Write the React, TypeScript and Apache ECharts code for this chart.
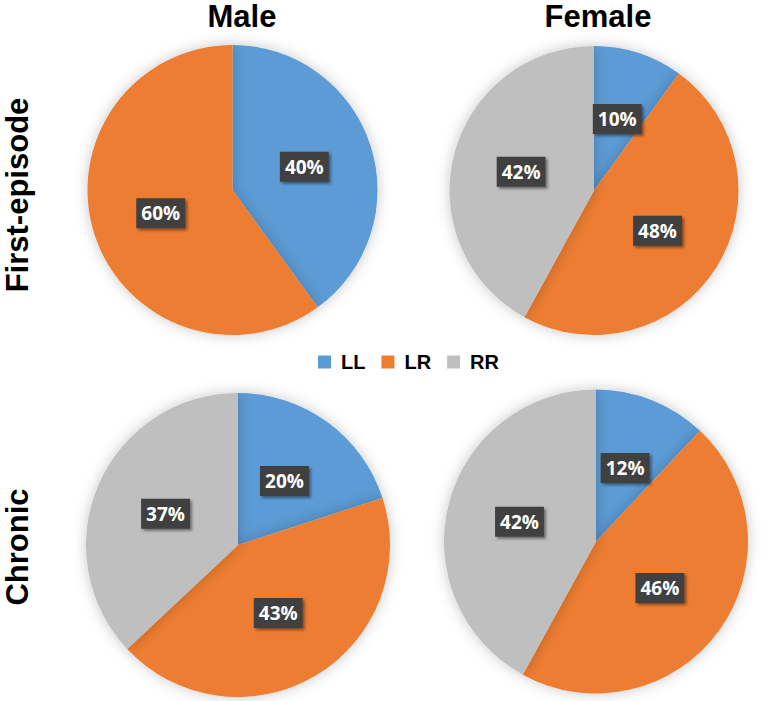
import React, { useEffect, useRef } from "react";
import * as echarts from "echarts";

const categories = ["LL", "LR", "RR"];
const colors = ["#5B9BD5", "#ED7D31", "#BFBFBF"];
const maleFirstEpisode = [40, 60];
const femaleFirstEpisode = [10, 48, 42];
const maleChronic = [20, 43, 37];
const femaleChronic = [12, 46, 42];
const columnTitles = ["Male", "Female"];
const rowTitles = ["First-episode", "Chronic"];

const FONT = "Liberation Sans, Arial, sans-serif";

function makePie(values: number[], center: [number, number], radius: number) {
  return {
    type: "pie",
    center,
    radius,
    startAngle: 90,
    clockwise: true,
    avoidLabelOverlap: false,
    data: values.map((v, i) => ({
      name: categories[i],
      value: v,
      itemStyle: { color: colors[i] },
    })),
    itemStyle: {
      borderWidth: 0,
      shadowBlur: 14,
      shadowColor: "rgba(0,0,0,0.22)",
    },
    label: {
      show: true,
      position: "inside",
      formatter: (p: any) => `${p.value}%`,
      color: "#ffffff",
      fontFamily: "Open Sans, sans-serif",
      fontWeight: "bold",
      fontSize: 19,
      lineHeight: 22,
      backgroundColor: "#3f3f3f",
      padding: [4, 5, 4, 5],
      shadowColor: "rgba(0,0,0,0.45)",
      shadowBlur: 3,
      shadowOffsetX: 2,
      shadowOffsetY: 2,
    },
    labelLine: { show: false },
    emphasis: { disabled: true },
  };
}

export default function App() {
  const ref = useRef<HTMLDivElement>(null);
  useEffect(() => {
    if (!ref.current) return;
    const chart = echarts.init(ref.current, undefined, { renderer: "svg" });
    chart.setOption({
      animation: false,
      backgroundColor: "#ffffff",
      legend: {
        data: categories,
        left: 313,
        top: 347,
        icon: "rect",
        itemWidth: 13,
        itemHeight: 13,
        itemGap: 16,
        textStyle: {
          fontFamily: FONT,
          fontWeight: "bold",
          fontSize: 20,
          color: "#000000",
          padding: [0, 0, 0, 5],
        },
      },
      graphic: [
        {
          type: "text",
          x: 242,
          y: 16,
          style: {
            text: columnTitles[0],
            font: `bold 31px ${FONT}`,
            fill: "#000",
            textAlign: "center",
            textVerticalAlign: "middle",
          },
        },
        {
          type: "text",
          x: 598,
          y: 16,
          style: {
            text: columnTitles[1],
            font: `bold 31px ${FONT}`,
            fill: "#000",
            textAlign: "center",
            textVerticalAlign: "middle",
          },
        },
        {
          type: "text",
          x: 17,
          y: 195,
          rotation: Math.PI / 2,
          style: {
            text: rowTitles[0],
            font: `bold 31px ${FONT}`,
            fill: "#000",
            textAlign: "center",
            textVerticalAlign: "middle",
          },
        },
        {
          type: "text",
          x: 17,
          y: 547,
          rotation: Math.PI / 2,
          style: {
            text: rowTitles[1],
            font: `bold 31px ${FONT}`,
            fill: "#000",
            textAlign: "center",
            textVerticalAlign: "middle",
          },
        },
      ],
      series: [
        makePie(maleFirstEpisode, [232.5, 190], 145),
        makePie(femaleFirstEpisode, [594, 190.5], 144.5),
        makePie(maleChronic, [238, 545], 152),
        makePie(femaleChronic, [596, 541.5], 152),
      ],
    });
    return () => chart.dispose();
  }, []);
  return (
    <div
      ref={ref}
      style={{ position: "fixed", left: 0, top: 0, width: 771, height: 701 }}
    />
  );
}
